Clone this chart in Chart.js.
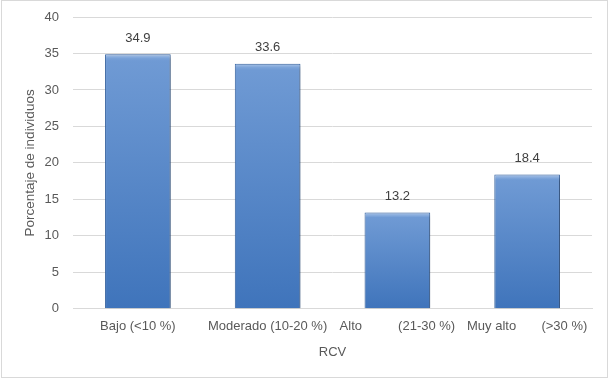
<!DOCTYPE html>
<html>
<head>
<meta charset="utf-8">
<script src="https://cdn.jsdelivr.net/npm/chart.js@4"></script>
<style>
html,body{margin:0;padding:0;background:#fff;}
#wrap{position:absolute;left:0;top:0;width:610px;height:380px;}
</style>
</head>
<body>
<div id="wrap"><canvas id="c" width="610" height="380"></canvas></div>
<script>
const categories = ["Bajo (<10 %)", "Moderado (10-20 %)", "Alto          (21-30 %)", "Muy alto       (>30 %)"];
const values = [34.9, 33.6, 13.2, 18.4];
const yTicks = [0, 5, 10, 15, 20, 25, 30, 35, 40];
const xTitle = "RCV";
const yTitle = "Porcentaje de individuos";

const FONT = "'Liberation Sans', Arial, sans-serif";

function barFill(ctx) {
  const chart = ctx.chart;
  const area = chart.chartArea;
  if (!area || ctx.type !== 'data') return '#4f81bd';
  const y = chart.scales.y;
  const top = y.getPixelForValue(ctx.raw);
  const bottom = y.getPixelForValue(0);
  const g = chart.ctx.createLinearGradient(0, top, 0, bottom);
  const h = Math.max(bottom - top, 1);
  const s = Math.min(4 / h, 0.2);
  g.addColorStop(0, '#a9c4e8');
  g.addColorStop(s, '#7aa2d8');
  g.addColorStop(Math.min(s + 0.01, 1), '#6f9ad4');
  g.addColorStop(1, '#3f74bb');
  return g;
}

const shadowPlugin = {
  id: 'shadow',
  beforeDatasetsDraw(chart) {
    const c = chart.ctx;
    c.save();
    c.shadowColor = 'rgba(0,0,0,0.35)';
    c.shadowBlur = 4;
    c.shadowOffsetX = 2;
    c.shadowOffsetY = 2;
  },
  afterDatasetsDraw(chart) {
    chart.ctx.restore();
  }
};

const labelPlugin = {
  id: 'valueLabels',
  afterDatasetsDraw(chart) {
    const c = chart.ctx;
    const meta = chart.getDatasetMeta(0);
    c.save();
    c.font = "13px " + FONT;
    c.fillStyle = '#404040';
    c.textAlign = 'center';
    c.textBaseline = 'middle';
    meta.data.forEach((el, i) => {
      c.fillText(values[i].toFixed(1), el.x, el.y - 16);
    });
    c.restore();
  }
};

const borderPlugin = {
  id: 'outerBorder',
  afterDraw(chart) {
    const c = chart.ctx;
    c.save();
    c.strokeStyle = '#d9d9d9';
    c.lineWidth = 1;
    c.strokeRect(1.5, 0.5, 606, 377);
    c.restore();
  }
};

new Chart(document.getElementById('c'), {
  type: 'bar',
  data: {
    labels: categories,
    datasets: [{
      data: values,
      backgroundColor: barFill,
      borderColor: '#3b69a8',
      borderWidth: 1,
      barPercentage: 0.506,
      categoryPercentage: 1.0
    }]
  },
  options: {
    responsive: false,
    animation: false,
    devicePixelRatio: 1,
    layout: { padding: { top: 17, right: 18, bottom: 20, left: 0 } },
    plugins: {
      legend: { display: false },
      tooltip: { enabled: false }
    },
    scales: {
      x: {
        grid: { display: false, drawTicks: false },
        border: { display: true, color: '#d9d9d9' },
        ticks: { color: '#595959', font: { size: 13, family: FONT }, padding: 10, maxRotation: 0, autoSkip: false },
        title: { display: true, text: xTitle, color: '#595959', font: { size: 13, family: FONT }, padding: { top: 0, bottom: 0 } }
      },
      y: {
        min: 0, max: 40,
        afterBuildTicks(axis) { axis.ticks = yTicks.map(v => ({ value: v })); },
        afterFit(axis) { axis.width = 73; axis.paddingTop = 0; axis.paddingBottom = 0; },
        grid: { color: '#d9d9d9', drawTicks: false },
        border: { display: false },
        ticks: { color: '#595959', font: { size: 13, family: FONT }, padding: 14 },
        title: { display: true, text: yTitle, color: '#595959', font: { size: 13.5, family: FONT }, padding: { top: 22, bottom: 2 } }
      }
    }
  },
  plugins: [shadowPlugin, labelPlugin, borderPlugin]
});
</script>
</body>
</html>
